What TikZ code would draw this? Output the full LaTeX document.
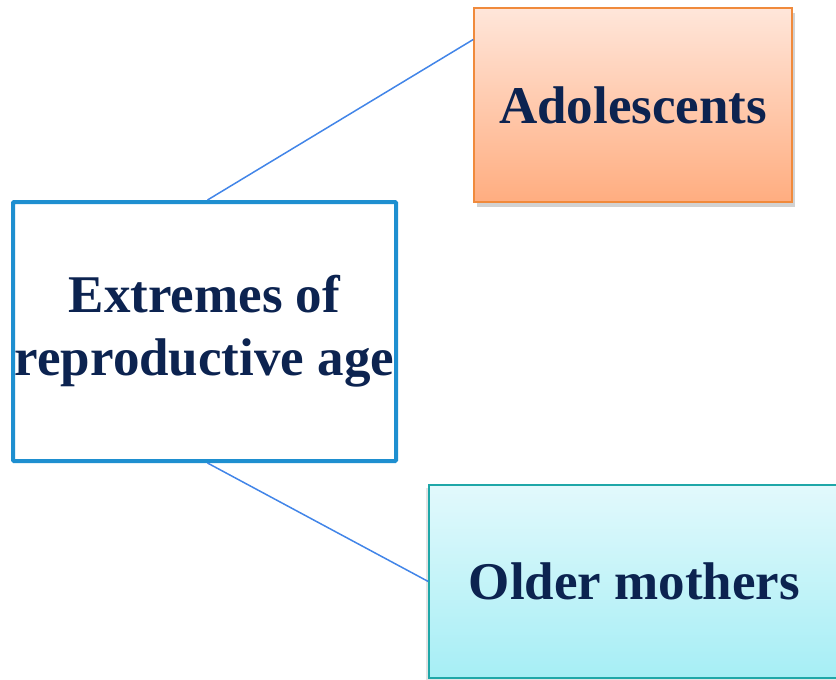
\documentclass[tikz,border=0pt]{standalone}
\usepackage{fontspec}
\setmainfont{Liberation Serif}
\usetikzlibrary{shadows,calc}
\definecolor{txt}{HTML}{0C2350}
\definecolor{cblue}{HTML}{1E8FD0}
\definecolor{lblue}{HTML}{4285E8}
\definecolor{oborder}{HTML}{F08A3C}
\definecolor{otop}{HTML}{FFE6DA}
\definecolor{obot}{HTML}{FFAD80}
\definecolor{tborder}{HTML}{1FA7A8}
\definecolor{ttop}{HTML}{E2F9FC}
\definecolor{tbot}{HTML}{A6EEF5}
\tikzset{
  boxtext/.style={font=\bfseries\fontsize{53}{63}\selectfont, text=txt, align=center, inner sep=0pt},
  mainbox/.style={boxtext, draw=cblue, line width=4pt, rounded corners=1pt, fill=white},
  adobox/.style={boxtext, draw=oborder, line width=1.5pt, top color=otop, bottom color=obot,
     drop shadow={shadow xshift=3pt, shadow yshift=-5pt, opacity=0.5, fill=gray!70}},
  oldbox/.style={boxtext, draw=tborder, line width=1.5pt, top color=ttop, bottom color=tbot,
     drop shadow={shadow xshift=-3pt, shadow yshift=-3pt, opacity=0.3, fill=gray!70}},
  link/.style={draw=lblue, line width=1.5pt}
}
\begin{document}
\begin{tikzpicture}[x=1pt,y=-1pt]
\useasboundingbox (0,0) rectangle (836,680);
\node[adobox, minimum width=318pt, minimum height=194pt] (ado) at (633,105) {Adolescents};
\node[oldbox, minimum width=411pt, minimum height=193pt] (old) at (634.5,581.5) {Older mothers};
\node[mainbox, minimum width=383pt, minimum height=259pt] (ext) at (204.5,331.5) {Extremes of\\reproductive age};
\coordinate (adoin) at ($(ado.north west)!0.165!(ado.south west)$);
\draw[link] ([xshift=3pt]ext.north) -- (adoin);
\draw[link] ([xshift=3pt]ext.south) -- (old.west);
\end{tikzpicture}
\end{document}
